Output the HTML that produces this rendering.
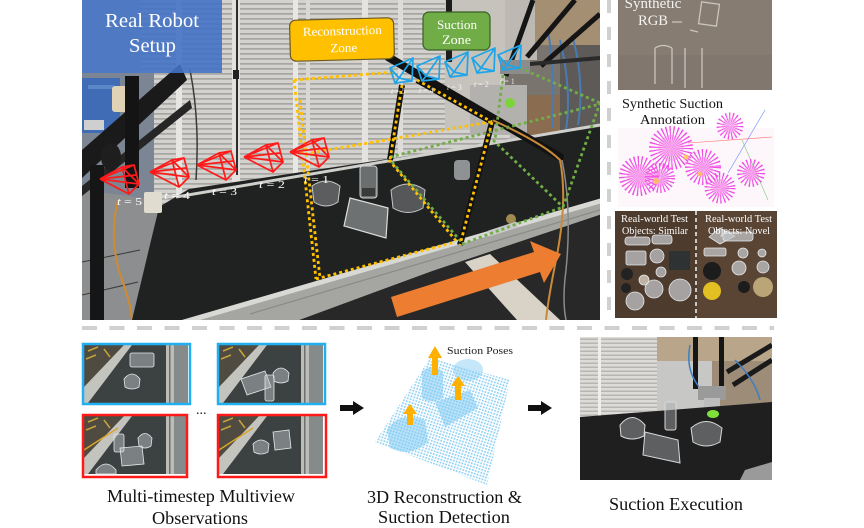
<!DOCTYPE html>
<html><head><meta charset="utf-8"><style>
html,body{margin:0;padding:0;background:#fff;}
svg{display:block;}
text{font-family:"Liberation Serif",serif;}
</style></head><body>
<svg width="864" height="528" viewBox="0 0 864 528" xmlns="http://www.w3.org/2000/svg">
<defs>
<clipPath id="cp"><rect x="82" y="0" width="518" height="320"/></clipPath>
<clipPath id="cpx"><rect x="580" y="337" width="192" height="143"/></clipPath>
<pattern id="slat" width="8" height="5" patternUnits="userSpaceOnUse"><rect width="8" height="5" fill="#d3d2ce"/><rect y="3.2" width="8" height="1.4" fill="#9d9c98"/></pattern>
<pattern id="slat2" width="8" height="4" patternUnits="userSpaceOnUse"><rect width="8" height="4" fill="#dcdbd7"/><rect y="2.6" width="8" height="1.2" fill="#aeadaa"/></pattern>
<pattern id="pc" width="3" height="3" patternUnits="userSpaceOnUse" patternTransform="rotate(18)"><rect width="3" height="3" fill="#ffffff"/><rect width="1.7" height="1.7" fill="#8ccff3"/></pattern>
<g id="rc" fill="none" stroke="#ff1a1a" stroke-width="1.7" stroke-linejoin="round">
<path d="M0,0 L22,-12 M0,0 L34,-14 M0,0 L39,5 M0,0 L29,15 M22,-12 L34,-14 L39,5 L29,15 Z M22,-12 L39,5 M0,0 L36,-4"/>
</g>
<g id="bc" fill="none" stroke="#1ea5e9" stroke-width="1.7" stroke-linejoin="round">
<path d="M0,12 L23,2 L22,25 L5,27 Z M9,22 L0,12 M9,22 L23,2 M9,22 L22,25 M9,22 L5,27"/>
</g>
<g id="cv">
<rect width="104" height="58" fill="#3c4242"/>
<polygon points="0,0 40,0 0,42" fill="#4f4b40"/>
<path d="M4,6 L14,2 M2,14 L12,10 M20,4 L26,12" stroke="#c9a23a" stroke-width="1.5"/>
<polygon points="0,42 40,0 48,0 4,58 0,58" fill="#c4c4bf"/>
<rect x="82" width="8" height="58" fill="#bdbdb8"/>
<rect x="85" width="1.5" height="58" fill="#6e6e6e"/>
<rect x="90" width="14" height="58" fill="#858a8b"/>
</g>
</defs>

<!-- ================= MAIN PHOTO ================= -->
<g clip-path="url(#cp)">
<rect x="82" y="0" width="518" height="320" fill="#b3b2ae"/>
<rect x="140" y="0" width="370" height="205" fill="url(#slat)"/>
<rect x="176" y="0" width="6" height="195" fill="#e6e5e1"/>
<rect x="232" y="0" width="8" height="190" fill="#e2e1dd"/>
<rect x="236" y="0" width="2" height="175" fill="#2e2e2e"/>
<rect x="233" y="70" width="6" height="9" fill="#222"/>
<rect x="293" y="0" width="5" height="185" fill="#e8e7e3"/>
<rect x="306" y="0" width="4" height="185" fill="#d9d8d4"/>
<rect x="362" y="0" width="6" height="175" fill="#e4e3df"/>
<rect x="398" y="0" width="5" height="160" fill="#dedcd8"/>
<path d="M190,70 Q200,120 196,180" stroke="#3a3a3a" stroke-width="1.5" fill="none"/>
<rect x="445" y="0" width="60" height="130" fill="#c6c3bd"/>
<rect x="505" y="0" width="95" height="135" fill="#7a746e"/>
<rect x="505" y="0" width="32" height="60" fill="#bdb9b2"/>
<rect x="535" y="0" width="65" height="45" fill="#a48f73"/>
<rect x="470" y="85" width="57" height="50" fill="#b2b1ae"/>
<rect x="527" y="95" width="33" height="40" fill="#8a6c50"/>
<rect x="560" y="45" width="40" height="85" fill="#5e5a58"/>
<path d="M548,30 Q556,80 552,128 M560,40 Q572,90 566,130 M572,35 Q585,80 578,125" stroke="#4a7ab3" stroke-width="2" fill="none"/>
<rect x="446" y="0" width="6" height="62" fill="#1c1c1c"/>
<path d="M533,0 L506,76" stroke="#151515" stroke-width="5"/>
<path d="M575,0 L527,57" stroke="#151515" stroke-width="5"/>
<path d="M600,14 L541,66" stroke="#151515" stroke-width="5"/>
<path d="M506,66 L600,58" stroke="#2a2a2a" stroke-width="4"/>
<rect x="500" y="60" width="30" height="14" fill="#8c8c8c"/>
<!-- left region -->
<rect x="82" y="73" width="72" height="125" fill="#7b8593"/>
<rect x="82" y="78" width="38" height="55" fill="#3f6cb4"/>
<rect x="88" y="85" width="26" height="4" fill="#5b86c8"/>
<rect x="112" y="86" width="22" height="26" rx="3" fill="#e0d3b5"/>
<rect x="84" y="120" width="20" height="10" fill="#cfcfcf"/>
<polygon points="82,190 160,200 134,320 82,320" fill="#8d8e90"/>
<path d="M82,262 L140,250 M82,295 L138,282" stroke="#3a3a3a" stroke-width="1"/>
<polygon points="82,150 180,64 187,80 82,178" fill="#1a1a1a"/>
<polygon points="82,186 190,100 192,108 82,196" fill="#262626"/>
<rect x="125" y="76" width="14" height="112" fill="#141414"/>
<rect x="90" y="165" width="14" height="155" fill="#161616"/>
<ellipse cx="111" cy="157" rx="10" ry="14" fill="#1e1e1e"/>
<path d="M118,200 Q108,240 122,280 Q130,300 132,320" stroke="#d08a30" stroke-width="2" fill="none"/>
<!-- belt -->
<polygon points="159,207 189,189 600,127 600,202 182,320 132,320" fill="#202121"/>
<path d="M176,197 L600,125" stroke="#cfcfcc" stroke-width="3"/>
<rect x="144" y="192" width="18" height="21" rx="2" fill="#e0dccf"/>
<!-- front rail -->
<polygon points="299,320 432,271 602,214 602,320" fill="#282828"/>
<polygon points="465,262 490,254 560,320 517,320" fill="#d8d3c6"/>
<polygon points="182,320 602,198 602,214 432,271 299,320" fill="#a5a5a1"/>
<polygon points="182,320 602,198 602,203 200,320" fill="#d8d8d4"/>
<path d="M250,314 L600,210" stroke="#8a8a86" stroke-width="1.2"/>
<circle cx="511" cy="219" r="5" fill="#a08a50"/>
<rect x="488" y="226" width="30" height="6" fill="#c9c9c9" transform="rotate(-18 503 229)"/>
<!-- objects on belt -->
<path d="M312,186 Q326,176 340,186 L338,202 Q326,210 314,202 Z" fill="#8c8f92" fill-opacity="0.55" stroke="#c8cbcd" stroke-width="1"/>
<rect x="360" y="166" width="17" height="32" rx="3" fill="#9ea2a4" fill-opacity="0.6" stroke="#d0d2d3" stroke-width="1"/>
<rect x="362" y="188" width="13" height="8" fill="#3a3a3a"/>
<polygon points="350,198 388,208 386,238 344,226" fill="#a4a6a7" fill-opacity="0.6" stroke="#dcdddd" stroke-width="1.2"/>
<path d="M391,190 Q408,178 425,190 L423,208 Q408,217 393,208 Z" fill="#8a8d90" fill-opacity="0.5" stroke="#c5c8ca" stroke-width="1"/>
<rect x="454" y="160" width="16" height="20" rx="4" fill="#bfc3c6" fill-opacity="0.7"/>
<!-- robot arm tube -->
<path d="M388,57 L560,157" stroke="#121212" stroke-width="8" stroke-linecap="round"/>
<path d="M470,110 Q540,140 560,160 Q568,200 556,260 Q548,300 546,320" stroke="#c98a3a" stroke-width="2" fill="none"/>
<path d="M562,160 Q572,210 566,270 Q562,300 566,320" stroke="#8a8a8a" stroke-width="1.5" fill="none"/>
<circle cx="510" cy="103" r="5" fill="#7bd43a"/>
<path d="M402,85 L390,160" stroke="#111" stroke-width="6"/>
<path d="M417,80 L492,122" stroke="#111" stroke-width="6"/>
<path d="M492,122 L460,245" stroke="#111" stroke-width="6"/>
<!-- dotted lines -->
<g fill="none" stroke-width="2.8" stroke-dasharray="3 3">
<g stroke="#70ad47">
<path d="M392,162 L463,244"/>
<path d="M390,157 L600,104"/>
<path d="M462,244 L563,207"/>
<path d="M563,207 L600,103"/>
<path d="M493,140 L563,207"/>
<path d="M520,68 L600,103"/>
<path d="M503,75 L495,140"/>
</g>
<g stroke="#ffc000">
<path d="M294,80 L395,72"/>
<path d="M294,80 L316,279"/>
<path d="M300,100 L320,278"/>
<path d="M316,279 L455,242"/>
<path d="M305,154 L490,122"/>
<path d="M389,160 L457,242"/>
<path d="M402,85 L390,160"/>
<path d="M417,80 L492,122"/>
<path d="M492,122 L460,245"/>
</g>
</g>
<use href="#rc" x="290" y="152"/>
<use href="#rc" x="244" y="157"/>
<use href="#rc" x="197" y="165"/>
<use href="#rc" x="150" y="172"/>
<use href="#rc" x="100" y="179"/>
<g fill="#ffffff" font-size="11">
<text x="304" y="183" textLength="25" lengthAdjust="spacingAndGlyphs"><tspan font-style="italic">t</tspan> = 1</text>
<text x="259" y="188" textLength="26" lengthAdjust="spacingAndGlyphs"><tspan font-style="italic">t</tspan> = 2</text>
<text x="212" y="195" textLength="25" lengthAdjust="spacingAndGlyphs"><tspan font-style="italic">t</tspan> = 3</text>
<text x="164" y="199" textLength="26" lengthAdjust="spacingAndGlyphs"><tspan font-style="italic">t</tspan> = 4</text>
<text x="117" y="205" textLength="25" lengthAdjust="spacingAndGlyphs"><tspan font-style="italic">t</tspan> = 5</text>
</g>
<use href="#bc" x="390" y="56"/>
<use href="#bc" x="417" y="54"/>
<use href="#bc" x="445" y="50"/>
<use href="#bc" x="472" y="46"/>
<use href="#bc" x="498" y="43"/>
<g fill="#ffffff" font-size="8" opacity="0.8">
<text x="391" y="94"><tspan font-style="italic">t</tspan> = 5</text>
<text x="419" y="93"><tspan font-style="italic">t</tspan> = 4</text>
<text x="447" y="90"><tspan font-style="italic">t</tspan> = 3</text>
<text x="474" y="87"><tspan font-style="italic">t</tspan> = 2</text>
<text x="500" y="84"><tspan font-style="italic">t</tspan> = 1</text>
</g>
<polygon points="391,297 534,252 530,241 561,254 544,283 540,272 397,317" fill="#ed7d31"/>
<rect x="82" y="0" width="140" height="73" fill="#4472c4" fill-opacity="0.9"/>
<text x="105" y="27" font-size="20" fill="#ffffff" textLength="94" lengthAdjust="spacingAndGlyphs">Real Robot</text>
<text x="129" y="52" font-size="20" fill="#ffffff" textLength="47" lengthAdjust="spacingAndGlyphs">Setup</text>
<g transform="rotate(-1.5 342 40)">
<rect x="290" y="19" width="104" height="41" rx="6" fill="#ffc000" stroke="#6b5a1e" stroke-width="1.2"/>
<text x="303" y="35" font-size="12.5" fill="#ffffff" textLength="79" lengthAdjust="spacingAndGlyphs">Reconstruction</text>
<text x="330" y="52" font-size="12.5" fill="#ffffff" textLength="27" lengthAdjust="spacingAndGlyphs">Zone</text>
</g>
<rect x="423" y="12" width="67" height="38" rx="6" fill="#70ad47" stroke="#3b5e27" stroke-width="1.2"/>
<text x="437" y="29" font-size="12.5" fill="#ffffff" textLength="40" lengthAdjust="spacingAndGlyphs">Suction</text>
<text x="442" y="44" font-size="12.5" fill="#ffffff" textLength="29" lengthAdjust="spacingAndGlyphs">Zone</text>
</g>

<line x1="609" y1="0" x2="609" y2="320" stroke="#d0d0d0" stroke-width="4" stroke-dasharray="13 14"/>
<line x1="82" y1="328" x2="774" y2="328" stroke="#d0d0d0" stroke-width="4" stroke-dasharray="15 12.5"/>

<!-- ================= RIGHT PANEL ================= -->
<rect x="618" y="0" width="154" height="90" fill="#877c72"/>
<rect x="618" y="55" width="154" height="35" fill="#7f756c" opacity="0.7"/>
<g fill="none" stroke="#dcd8d2" stroke-width="1.3" opacity="0.8">
<rect x="700" y="3" width="18" height="22" transform="rotate(8 709 14)"/>
<path d="M655,48 L655,84 M672,48 L672,84 M655,48 Q663,43 672,48"/>
<path d="M685,48 L685,88 M702,48 L702,88"/>
<path d="M672,22 L682,22 M690,30 L698,32"/>
</g>
<text x="653" y="8" font-size="15" fill="#ffffff" text-anchor="middle" opacity="0.9">Synthetic</text>
<text x="638" y="25" font-size="15" fill="#ffffff" textLength="30" lengthAdjust="spacingAndGlyphs" opacity="0.9">RGB</text>

<text x="622" y="108" font-size="14" fill="#111" textLength="101" lengthAdjust="spacingAndGlyphs">Synthetic Suction</text>
<text x="640" y="124" font-size="14" fill="#111" textLength="65" lengthAdjust="spacingAndGlyphs">Annotation</text>
<rect x="618" y="128" width="156" height="79" fill="#fdf6fb"/>
<g fill="none" stroke-width="0.6">
<path d="M688,143 L772,137" stroke="#ff6a6a"/>
<path d="M765,110 L728,173" stroke="#6a8aff"/>
<path d="M742,140 L768,200" stroke="#7acb7a"/>
</g>
<g fill="none" stroke="#f04ee6" stroke-dasharray="0.8 1.5">
<circle cx="639" cy="176" r="10" stroke-width="20"/>
<circle cx="671" cy="148" r="11" stroke-width="22"/>
<circle cx="703" cy="167" r="9" stroke-width="18"/>
<circle cx="720" cy="188" r="8" stroke-width="15"/>
<circle cx="730" cy="126" r="7" stroke-width="13"/>
<circle cx="751" cy="173" r="7" stroke-width="14"/>
<circle cx="660" cy="178" r="8" stroke-width="14"/>
</g>
<g fill="#f26be0" opacity="0.35">
<circle cx="639" cy="176" r="12"/><circle cx="671" cy="148" r="13"/><circle cx="703" cy="167" r="10"/><circle cx="720" cy="188" r="9"/><circle cx="730" cy="126" r="8"/><circle cx="751" cy="173" r="8"/><circle cx="660" cy="178" r="9"/>
</g>
<g fill="#ffc84a" opacity="0.8"><circle cx="656" cy="181" r="3"/><circle cx="686" cy="157" r="2.5"/><circle cx="700" cy="174" r="2.5"/></g>

<rect x="615" y="211" width="162" height="107" fill="#4d3b2d"/>
<rect x="697" y="211" width="80" height="107" fill="#5a4534"/>
<g fill="#c3c6c8" fill-opacity="0.75" stroke="#e6e8ea" stroke-width="0.8">
<rect x="625" y="237" width="25" height="8" rx="3"/>
<rect x="652" y="235" width="20" height="9" rx="3"/>
<rect x="626" y="251" width="20" height="14" rx="2"/>
<circle cx="657" cy="256" r="7"/>
<circle cx="661" cy="272" r="5"/>
<circle cx="654" cy="289" r="9"/>
<circle cx="680" cy="290" r="11"/>
<circle cx="635" cy="301" r="9"/>
<circle cx="644" cy="280" r="5" fill="#e4dccb"/>
<polygon points="709,237 720,228 735,236 720,244"/>
<rect x="723" y="232" width="30" height="9" rx="3"/>
<rect x="704" y="248" width="22" height="8" rx="2"/>
<circle cx="743" cy="253" r="5"/><circle cx="762" cy="253" r="4"/>
<circle cx="739" cy="268" r="7"/><circle cx="763" cy="267" r="6"/>
</g>
<rect x="669" y="251" width="21" height="19" fill="#2e3232"/>
<circle cx="627" cy="274" r="6" fill="#222"/><circle cx="626" cy="288" r="5" fill="#222"/>
<circle cx="712" cy="271" r="9" fill="#1c1c1c"/>
<circle cx="744" cy="287" r="6" fill="#1c1c1c"/>
<circle cx="712" cy="291" r="9" fill="#e2bf22"/>
<circle cx="763" cy="287" r="10" fill="#b9a576"/>
<line x1="696" y1="211" x2="696" y2="318" stroke="#f4f4f4" stroke-width="1.5" stroke-dasharray="4 3"/>
<g fill="#ffffff" font-size="11">
<text x="621" y="222" textLength="67" lengthAdjust="spacingAndGlyphs">Real-world Test</text>
<text x="622" y="234" textLength="66" lengthAdjust="spacingAndGlyphs">Objects: Similar</text>
<text x="705" y="222" textLength="67" lengthAdjust="spacingAndGlyphs">Real-world Test</text>
<text x="708" y="234" textLength="62" lengthAdjust="spacingAndGlyphs">Objects: Novel</text>
</g>

<!-- ================= OBSERVATIONS ================= -->
<g transform="translate(84,345)">
<use href="#cv"/>
<g fill="#c8ced3" fill-opacity="0.45" stroke="#e4e8ea" stroke-width="0.8">
<path d="M40,34 Q48,24 56,34 L55,42 Q48,46 41,42 Z"/>
<rect x="46" y="8" width="24" height="14" rx="2"/>
</g>
</g>
<rect x="83" y="344" width="107" height="60" fill="none" stroke="#21b0ef" stroke-width="2.5"/>

<g transform="translate(219,345)">
<use href="#cv"/>
<g fill="#c8ced3" fill-opacity="0.45" stroke="#e4e8ea" stroke-width="0.8">
<polygon points="22,34 46,26 52,42 28,50"/>
<path d="M54,28 Q62,18 70,28 L69,36 Q62,40 55,36 Z"/>
<rect x="46" y="30" width="9" height="26" rx="2"/>
</g>
</g>
<rect x="218" y="344" width="107" height="60" fill="none" stroke="#21b0ef" stroke-width="2.5"/>

<text x="196" y="414" font-size="14" fill="#111">...</text>

<g transform="translate(84,416)">
<use href="#cv"/>
<path d="M0,34 L34,12" stroke="#d9a52a" stroke-width="1.5"/>
<g fill="#c8ced3" fill-opacity="0.45" stroke="#e4e8ea" stroke-width="0.8">
<rect x="30" y="18" width="10" height="18" rx="2"/>
<path d="M54,22 Q61,13 68,22 L67,30 Q61,34 55,30 Z"/>
<polygon points="36,32 58,30 60,48 38,50"/>
<path d="M12,54 Q22,42 32,54 L32,58 L12,58 Z"/>
</g>
</g>
<rect x="83" y="415" width="104" height="62" fill="none" stroke="#ff1a1a" stroke-width="2.5"/>

<g transform="translate(219,416)">
<use href="#cv"/>
<path d="M0,34 L34,12" stroke="#d9a52a" stroke-width="1.5"/>
<g fill="#c8ced3" fill-opacity="0.45" stroke="#e4e8ea" stroke-width="0.8">
<path d="M34,28 Q42,20 50,28 L49,36 Q42,40 35,36 Z"/>
<polygon points="54,16 70,14 72,32 56,34"/>
</g>
</g>
<rect x="218" y="415" width="108" height="62" fill="none" stroke="#ff1a1a" stroke-width="2.5"/>

<text x="107" y="502" font-size="17.5" fill="#111" textLength="188" lengthAdjust="spacingAndGlyphs">Multi-timestep Multiview</text>
<text x="152" y="524" font-size="17.5" fill="#111" textLength="96" lengthAdjust="spacingAndGlyphs">Observations</text>

<polygon points="340,405 353,405 353,401 364,408 353,415 353,411 340,411" fill="#111"/>
<polygon points="528,405 541,405 541,401 552,408 541,415 541,411 528,411" fill="#111"/>

<!-- ================= POINT CLOUD ================= -->
<polygon points="430,358 510,380 487,485 375,442" fill="url(#pc)"/>
<g fill="#7fcaf2" fill-opacity="0.55">
<path d="M422,372 Q432,362 443,372 L443,398 Q432,405 422,398 Z"/>
<ellipse cx="468" cy="370" rx="15" ry="11" fill-opacity="0.45"/>
<polygon points="435,402 470,390 478,408 445,427"/>
<path d="M387,430 Q400,410 425,420 L428,442 Q410,458 390,448 Z"/>
</g>
<g fill="#ffb000">
<polygon points="432,375 432,358 428,358 435,346 442,358 438,358 438,375"/>
<polygon points="455,400 455,386 451,386 458,376 465,386 461,386 461,400"/>
<polygon points="407,425 407,414 403,414 410,404 417,414 413,414 413,425"/>
</g>
<text x="447" y="354" font-size="10.5" fill="#222" textLength="66" lengthAdjust="spacingAndGlyphs">Suction Poses</text>
<text x="367" y="503" font-size="17.5" fill="#111" textLength="155" lengthAdjust="spacingAndGlyphs">3D Reconstruction &amp;</text>
<text x="378" y="523" font-size="17.5" fill="#111" textLength="132" lengthAdjust="spacingAndGlyphs">Suction Detection</text>

<!-- ================= SUCTION EXECUTION ================= -->
<g clip-path="url(#cpx)">
<rect x="580" y="337" width="192" height="143" fill="#c9c7c2"/>
<rect x="580" y="337" width="77" height="80" fill="url(#slat2)"/>
<rect x="598" y="337" width="3" height="80" fill="#eeeeea"/>
<rect x="657" y="337" width="115" height="24" fill="#b9a68a"/>
<rect x="657" y="361" width="55" height="48" fill="#c7c7c5"/>
<rect x="712" y="361" width="60" height="45" fill="#9c8c78"/>
<rect x="693" y="337" width="5" height="52" fill="#161616"/>
<rect x="719" y="337" width="5" height="52" fill="#161616"/>
<path d="M727,372 L772,345 M733,385 L772,360" stroke="#1a1a1a" stroke-width="5"/>
<path d="M690,345 Q685,370 700,388 M735,360 Q755,380 760,400" stroke="#3f7fc0" stroke-width="1.5" fill="none"/>
<rect x="698" y="386" width="28" height="14" fill="#9a9a9a"/>
<rect x="704" y="398" width="16" height="12" fill="#bdbdbd"/>
<polygon points="580,417 772,402 772,480 580,480" fill="#1f1f1f"/>
<polygon points="745,470 772,462 772,480 740,480" fill="#9a9a9a"/>
<ellipse cx="713" cy="414" rx="6" ry="4" fill="#7fe03a"/>
<g fill="#a9adb0" fill-opacity="0.45" stroke="#d7d9db" stroke-width="1">
<path d="M620,425 Q632,410 645,425 L644,436 Q632,442 621,436 Z"/>
<rect x="665" y="402" width="11" height="28" rx="2"/>
<polygon points="645,432 678,440 680,463 643,455"/>
<path d="M691,428 Q706,415 722,428 L720,442 Q706,450 693,442 Z"/>
</g>
</g>
<text x="609" y="510" font-size="17.5" fill="#111" textLength="134" lengthAdjust="spacingAndGlyphs">Suction Execution</text>
</svg>
</body></html>
